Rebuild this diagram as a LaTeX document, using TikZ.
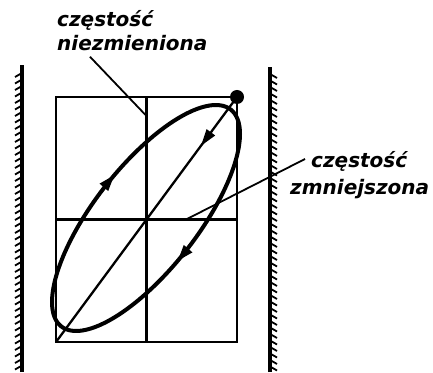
\documentclass[tikz,border=0pt]{standalone}
\usepackage{fontspec}
\newfontfamily\notefont{DejaVu Sans Bold Oblique}
\usetikzlibrary{arrows.meta, decorations.markings, positioning}

\begin{document}
\begin{tikzpicture}[x=10pt, y=10pt,
        frame/.style={rectangle, draw, line width=2.3pt, minimum width=181pt, minimum height=245pt, inner sep=0pt, outer sep=0pt},
        grid/.style={line width=2.3pt},
        orbit/.style={line width=4pt, line join=round},
        wall/.style={line width=3.4pt},
        hatch/.style={line width=1.8pt},
        leader/.style={line width=1.8pt},
        mass/.style={circle, fill, inner sep=0pt, minimum size=14pt},
        note/.style={font=\notefont\fontsize{20}{24}\selectfont, align=left, inner sep=0pt},
        midarrow/.style={postaction={decorate, decoration={markings, mark=at position #1 with {\arrow{Triangle[length=17pt,width=10pt]}}}}}
    ]
    \useasboundingbox (0,0) rectangle (43.3,37.2);

    % Walls
    \draw[wall] (2.2,0) -- (2.2,30.7);
    \foreach \y in {1,...,46}
        \draw[hatch] (2.2,{\y*0.65}) -- ++(-0.7,-0.4);
    \draw[wall] (27,0) -- (27,30.5);
    \foreach \y in {1,...,46}
        \draw[hatch] (27,{\y*0.65-0.1}) -- ++(0.7,-0.4);

    % Frame and axes
    \node[frame] (frame) at (14.65,15.25) {};
    \draw[grid] (frame.north) -- (frame.south);
    \draw[grid] (frame.west) -- (frame.east);
    \draw[grid, midarrow=0.2] (frame.north east) -- (frame.south west);

    % Orbit
    \draw[orbit, midarrow=0.22, midarrow=0.72] plot[domain=0:355, samples=72, smooth cycle]
        ({14.6+9.4*cos(\x)}, {15.4+11.3*cos(\x+42)});
    \node[mass] (mass) at (frame.north east) {};

    % Labels
    \node[note, anchor=north west] (noteA) at (5.7,36.2) {częstość\\niezmieniona};
    \node[note, anchor=north west] (noteB) at (29.0,22.1) {\hspace*{21pt}częstość\\[3pt]zmniejszona};
    \coordinate (tipA) at (14.65,25.6);
    \coordinate (tipB) at (18.7,15.3);
    \draw[leader] ([xshift=33pt, yshift=-6pt]noteA.south west) -- (tipA);
    \draw[leader] ([xshift=15pt, yshift=-8pt]noteB.north west) -- (tipB);

\end{tikzpicture}
\end{document}
